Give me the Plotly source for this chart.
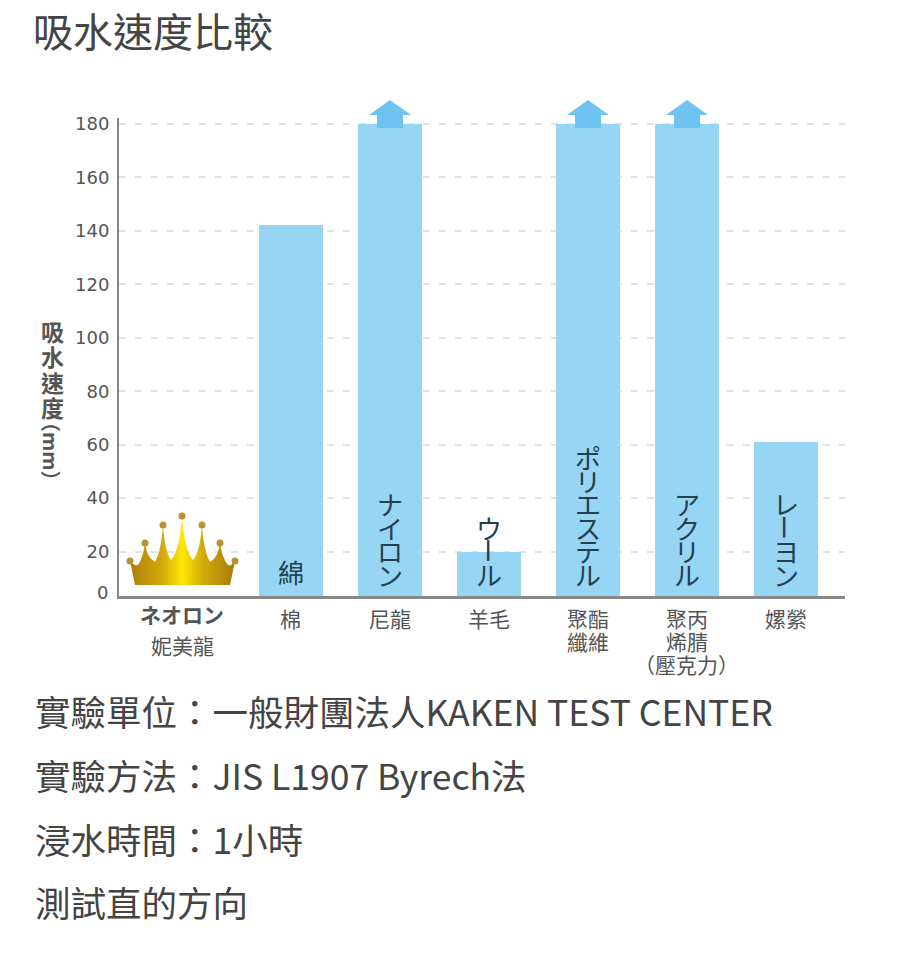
import base64
import plotly.graph_objects as go

# ---------- data ----------
categories = [["<b>ネオロン</b>", "妮美龍"], ["棉"], ["尼龍"], ["羊毛"], ["聚酯", "纖維"],
              ["聚丙", "烯腈", "（壓克力）"], ["嫘縈"]]
values = [None, 142, 180, 20, 180, 180, 61]
bar_labels = ["", "綿", "ナイロン", "ウール", "ポリエステル", "アクリル", "レーヨン"]
over_scale = [False, False, True, False, True, True, False]
y_ticks = [20, 40, 60, 80, 100, 120, 140, 160, 180]
y_title_chars = ["吸", "水", "速", "度"]
y_title_unit = "（mm）"
title = "吸水速度比較"
notes = ["實驗單位：一般財團法人KAKEN TEST CENTER",
         "實驗方法：JIS L1907 Byrech法",
         "浸水時間：1小時",
         "測試直的方向"]

# ---------- page geometry ----------
W, H = 911, 960
L, R, T, B = 119, 845, 118, 596
CJK = "Noto Sans CJK TC"
INK = "#444444"
BAR = "#97D5F5"
ARROW = "#6FC3F1"

def px(x):
    return (x - L) / (R - L)

def py(y):
    return (B - y) / (B - T)

Y_MIN, Y_MAX = 3.4, 182.2
first_offset = -0.10  # first category label sits left of its slot
xs = list(range(len(categories)))
tick_x = [first_offset] + xs[1:]

fig = go.Figure(go.Bar(x=xs, y=values, width=0.647, marker=dict(color=BAR, line_width=0),
                       hoverinfo="skip"))

# ---------- overflow arrows ----------
arrow_path = "M -13 -4 L -13 9 L -21 9 L 0 24 L 21 9 L 13 9 L 13 -4 Z"
y180 = (180 - Y_MIN) / (Y_MAX - Y_MIN)
shapes = []
for x, over in zip(xs, over_scale):
    if over:
        shapes.append(dict(type="path", xref="x", yref="paper", xsizemode="pixel", ysizemode="pixel",
                           xanchor=x, yanchor=y180, path=arrow_path, fillcolor=ARROW, line_width=0,
                           layer="above"))

# ---------- annotations ----------
ann = []

def page_text(text, x, y, size, anchor="left", color=INK, family=CJK, angle=0):
    ann.append(dict(text=text, xref="paper", yref="paper", x=px(x), y=py(y), xanchor=anchor,
                    yanchor="middle", showarrow=False, textangle=angle,
                    font=dict(size=size, color=color, family=family)))

page_text(title, 31, 30, 40)
for text, y in zip(notes, [710, 774, 838, 902]):
    page_text(text, 33, y, 35.5)

# y axis: the "0" label sits just above the cut baseline
page_text("0", 110, 592, 18, anchor="right", color="#555555", family="DejaVu Sans")

# vertical axis title
for i, ch in enumerate(y_title_chars):
    page_text(f"<b>{ch}</b>", 52, 331 + i * 25.3, 23, anchor="center", color="#555555")
page_text(f"<b>{y_title_unit}</b>", 52, 451, 20, anchor="center", color="#555555", angle=90)

# category labels under the axis, one text per line for the tight leading
label_rows = {1: [618], 2: [618, 641], 3: [618, 641, 664]}
for x, lines in zip(tick_x, categories):
    rows = [614, 645] if x == first_offset else label_rows[len(lines)]
    for line, row in zip(lines, rows):
        ann.append(dict(text=line, x=x, xref="x", y=py(row), yref="paper", showarrow=False,
                        xanchor="center", yanchor="middle",
                        font=dict(size=21, color="#555555", family=CJK)))

# stacked katakana / kanji labels inside the bars
for x, label in zip(xs, bar_labels):
    size = 26
    step = 23.4
    n = len(label)
    for i, ch in enumerate(label):
        from_bottom = n - 1 - i
        ann.append(dict(text=ch, x=x, y=Y_MIN, xref="x", yref="y", showarrow=False,
                        xanchor="center", yanchor="middle",
                        yshift=(25 if n == 1 else 22) + from_bottom * step,
                        textangle=90 if ch == "ー" else 0,
                        font=dict(size=size, color="#24404f", family=CJK)))

# ---------- crown ----------
svg = """<svg xmlns='http://www.w3.org/2000/svg' width='118' height='80' viewBox='125 510 118 80'>
<defs><linearGradient id='g' x1='0' x2='1' y1='0' y2='0'>
<stop offset='0' stop-color='#B07F08'/><stop offset='0.3' stop-color='#D2A80E'/>
<stop offset='0.5' stop-color='#FFE800'/><stop offset='0.7' stop-color='#D2A80E'/>
<stop offset='1' stop-color='#A97A08'/></linearGradient></defs>
<path fill='url(#g)' d='M135 585 L130 561 Q134 566 138 565 Q143 558 145 543 Q147 558 155 562
Q161 552 163 525 Q165 552 171 560 Q180 550 182 516 Q184 550 193 560 Q200 552 202 525 Q204 552 210 562
Q218 558 220 543 Q222 558 228 565 Q232 566 235 561 L230 585 Z'/>
<g fill='#B8932C'><circle cx='130' cy='561' r='3.5'/><circle cx='145' cy='543' r='3.5'/>
<circle cx='163' cy='525' r='3.5'/><circle cx='182' cy='516' r='3.5'/><circle cx='202' cy='525' r='3.5'/>
<circle cx='220' cy='543' r='3.5'/><circle cx='235' cy='561' r='3.5'/></g></svg>"""
crown = "data:image/svg+xml;base64," + base64.b64encode(svg.encode()).decode()

fig.update_layout(
    width=W, height=H, autosize=False,
    margin=dict(l=L, r=W - R, t=T, b=H - B, pad=0),
    paper_bgcolor="white", plot_bgcolor="white", showlegend=False, bargap=0,
    shapes=shapes, annotations=ann,
    images=[dict(source=crown, xref="paper", yref="paper", x=px(125), y=py(510),
                 sizex=118 / (R - L), sizey=80 / (B - T), xanchor="left", yanchor="top",
                 sizing="stretch", layer="above")],
    xaxis=dict(range=[-0.737, 6.596], showticklabels=False,
               showgrid=False, zeroline=False, showline=True, linecolor="#888888", linewidth=2.5,
               ticks="", fixedrange=True),
    yaxis=dict(range=[Y_MIN, Y_MAX], tickmode="array", tickvals=y_ticks,
               ticktext=[str(v) for v in y_ticks],
               showgrid=True, gridcolor="#E2E2E2", gridwidth=1.5, griddash="7px,9px",
               zeroline=False, showline=True, linecolor="#888888", linewidth=2,
               ticks="outside", ticklen=4, tickcolor="rgba(0,0,0,0)",
               tickfont=dict(size=18, color="#555555", family="DejaVu Sans"), fixedrange=True),
)

fig.write_html("out.html", config={"displayModeBar": False},
               post_script="document.body.style.margin='0';")
